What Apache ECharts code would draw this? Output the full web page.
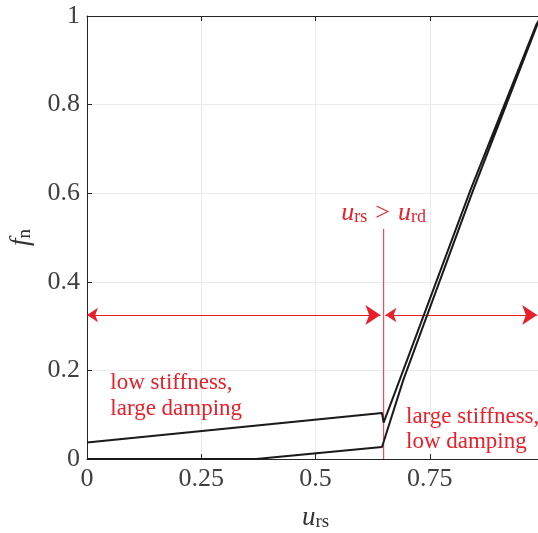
<!DOCTYPE html>
<html><head><meta charset="utf-8">
<script src="https://cdn.jsdelivr.net/npm/echarts@6/dist/echarts.min.js"></script>
<style>html,body{margin:0;padding:0;background:#fff}#c{width:538px;height:533px}</style>
</head><body><div id="c"></div>
<script>
// ---- data ----
const xTicks = [0, 0.25, 0.5, 0.75, 1];
const yTicks = [0, 0.2, 0.4, 0.6, 0.8, 1];
// loading (lower) branch of the hysteresis loop
const lowerX = [0, 0.37, 0.6455, 0.692, 0.845, 0.985, 1];
const lowerY = [0, 0, 0.027, 0.178, 0.607, 0.98, 1.01];
// unloading (upper) branch
const upperX = [1, 0.983, 0.839, 0.684, 0.649, 0.6455, 0];
const upperY = [1.01, 0.98, 0.607, 0.178, 0.082, 0.104, 0.037];
// threshold marker and range arrows
const thresholdX = 0.649;
const thresholdTop = 0.52;
const arrowY = 0.325;
const leftRange = [0, 0.642];
const rightRange = [0.653, 0.985];
const thresholdLabel = '{i|u}{s|rs}{n|>}{i|u}{s|rd}';
const leftNote = 'low stiffness,\nlarge damping';
const rightNote = 'large stiffness,\nlow damping';

const FONT = 'Liberation Serif';
const RED = '#e8202a';
const AX = '#262626';

const loopData = lowerX.map((x, i) => [x, lowerY[i]]).concat(upperX.map((x, i) => [x, upperY[i]]));

const chart = echarts.init(document.getElementById('c'));
const tickFmt = v => String(+v.toFixed(2));
chart.setOption({
  animation: false,
  backgroundColor: '#fff',
  grid: { left: 87, right: -6, top: 16, bottom: 74, outerBoundsMode: 'none', containLabel: false },
  xAxis: [{
    type: 'value', min: xTicks[0], max: xTicks[xTicks.length - 1], interval: 0.25, position: 'bottom',
    axisLine: { show: true, onZero: false, lineStyle: { color: AX, width: 1 } },
    axisTick: { show: true, inside: true, length: 5, lineStyle: { color: AX } },
    axisLabel: { fontFamily: FONT, fontSize: 26, color: '#404040', margin: 7, formatter: tickFmt, hideOverlap: false },
    splitLine: { show: true, lineStyle: { color: '#ebebeb', width: 1 } },
    name: '{i|u}{s|rs}', nameLocation: 'middle', nameGap: 45,
    nameTextStyle: { rich: {
      i: { fontFamily: FONT, fontStyle: 'italic', fontSize: 27, lineHeight: 28, color: '#333' },
      s: { fontFamily: FONT, fontSize: 19, lineHeight: 14, verticalAlign: 'bottom', color: '#333' }
    } }
  }, {
    type: 'value', min: 0, max: 1, interval: 0.25, position: 'top',
    axisLine: { show: true, onZero: false, lineStyle: { color: AX, width: 1 } },
    axisTick: { show: true, inside: true, length: 5, lineStyle: { color: AX } },
    axisLabel: { show: false }, splitLine: { show: false }
  }],
  yAxis: [{
    type: 'value', min: yTicks[0], max: yTicks[yTicks.length - 1], interval: 0.2, position: 'left',
    axisLine: { show: true, onZero: false, lineStyle: { color: AX, width: 1 } },
    axisTick: { show: true, inside: true, length: 5, lineStyle: { color: AX } },
    axisLabel: { fontFamily: FONT, fontSize: 26, color: '#404040', margin: 7, formatter: tickFmt },
    splitLine: { show: true, lineStyle: { color: '#ebebeb', width: 1 } },
    name: '{i|f}{s|n}', nameLocation: 'middle', nameRotate: 90, nameGap: 52,
    nameTextStyle: { rich: {
      i: { fontFamily: FONT, fontStyle: 'italic', fontSize: 27, lineHeight: 28, color: '#333' },
      s: { fontFamily: FONT, fontSize: 19, lineHeight: 14, verticalAlign: 'bottom', color: '#333' }
    } }
  }],
  series: [
    {
      type: 'line', data: [[thresholdX, 0], [thresholdX, thresholdTop]], symbol: 'none', color: RED,
      lineStyle: { color: RED, width: 1.2, opacity: 0.8 }, z: 2, silent: true
    },
    {
      type: 'lines', coordinateSystem: 'cartesian2d', z: 3,
      symbol: ['arrow', 'arrow'], symbolSize: [11, 15],
      lineStyle: { color: RED, width: 1.1, opacity: 1, curveness: 0 },
      data: [
        { coords: [[leftRange[0], arrowY], [leftRange[1], arrowY]] },
        { coords: [[rightRange[0], arrowY], [rightRange[1], arrowY]] }
      ]
    },
    {
      type: 'line', data: loopData, symbol: 'none', clip: true, color: '#1a1a1a',
      lineStyle: { color: '#1a1a1a', width: 2 }, z: 4
    }
  ]
});

const px = (x, y) => chart.convertToPixel({ gridIndex: 0 }, [x, y]);
const pThr = px(thresholdX, 0.555);
const pL = px(0.051, 0.2);
const pR = px(0.698, 0.124);
const noteStyle = { fontFamily: FONT, fontSize: 23, lineHeight: 25.5, fill: RED };
chart.setOption({
  graphic: [
    { type: 'text', x: pThr[0], y: pThr[1], z: 10, style: {
      text: thresholdLabel, align: 'center', verticalAlign: 'middle',
      rich: {
        i: { fontFamily: FONT, fontStyle: 'italic', fontSize: 26, lineHeight: 26, fill: RED },
        n: { fontFamily: FONT, fontSize: 26, lineHeight: 26, fill: RED, padding: [0, 8, 0, 8] },
        s: { fontFamily: FONT, fontSize: 18, lineHeight: 12, verticalAlign: 'bottom', fill: RED }
      } } },
    { type: 'text', x: pL[0], y: pL[1], z: 10, style: Object.assign({ text: leftNote, align: 'left', verticalAlign: 'top' }, noteStyle) },
    { type: 'text', x: pR[0], y: pR[1], z: 10, style: Object.assign({ text: rightNote, align: 'left', verticalAlign: 'top' }, noteStyle) }
  ]
});
</script></body></html>
